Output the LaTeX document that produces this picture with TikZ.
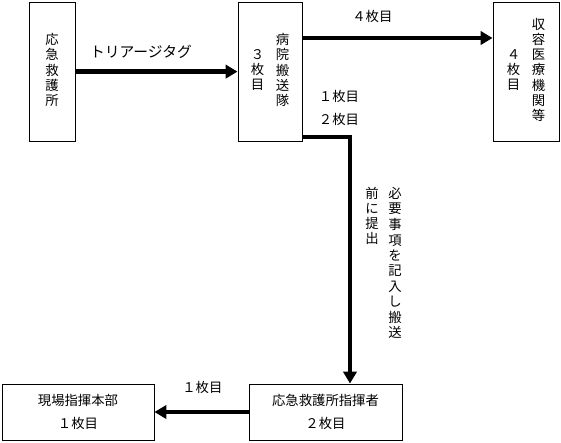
\documentclass[tikz,border=0pt]{standalone}
\usepackage{fontspec}
\setmainfont{Noto Sans CJK JP}
\usetikzlibrary{arrows.meta}
\tikzset{box/.style={draw,line width=0.7pt},
  flow/.style={line width=3.5pt,-{Triangle[length=8.5pt,width=9.5pt]}}}
\newcommand{\tate}[2][c]{\begin{tabular}[#1]{@{}c@{}}#2\end{tabular}}

\begin{document}
\begin{tikzpicture}[font=\fontsize{9.5}{10}\selectfont]
      \useasboundingbox (0,0) rectangle (14.025,-11.05);
      \node [box,minimum width=1.15cm,minimum height=3.475cm] (kyugo) at (1.3,-1.79) {\tate{応\\急\\救\\護\\所}};
      \node [box,minimum width=1.6cm,minimum height=3.475cm] (hanso) at (6.75,-1.79) {\tate{３\\枚\\目}\hspace{8.3pt}\tate{病\\院\\搬\\送\\隊}};
      \node [box,minimum width=1.65cm,minimum height=3.475cm] (shuyo) at (13.15,-1.79) {\tate{４\\枚\\目}\hspace{8.3pt}\tate{収\\容\\医\\療\\機\\関\\等}};
      \node [box,align=center,minimum width=3.8cm,minimum height=1.4cm] (honbu) at (1.95,-10.3) {現場指揮本部\\[6pt]１枚目};
      \node [box,align=center,minimum width=3.825cm,minimum height=1.4cm] (shiki) at (8.1375,-10.3) {応急救護所指揮者\\[6pt]２枚目};
      \coordinate (upper) at (0,-0.95);
      \coordinate (bend) at (8.75,-3.425);
      \draw [flow] (kyugo) -- (hanso);
      \draw [flow] (hanso.east |- upper) -- (shuyo.west |- upper);
      \draw [flow] (hanso.east |- bend) -- (bend) -- (bend |- shiki.north);
      \draw [flow] (shiki) -- (honbu);
      \node [font=\fontsize{10.5}{12}\selectfont] (tag) at (3.525,-1.3) {トリアージタグ};
      \node (mai4) at (9.31,-0.4) {４枚目};
      \node (mai1) at (8.475,-2.4) {１枚目};
      \node (mai2) at (8.475,-2.975) {２枚目};
      \node [anchor=north] (hitsuyo) at (9.875,-4.56) {\renewcommand{\arraystretch}{1.09}\tate[t]{必\\要\\事\\項\\を\\記\\入\\し\\搬\\送}};
      \node [anchor=north] (mae) at (9.3,-4.56) {\tate[t]{前\\に\\提\\出}};
      \node (honbu1) at (5.06,-9.675) {１枚目};
    \end{tikzpicture}
\end{document}
